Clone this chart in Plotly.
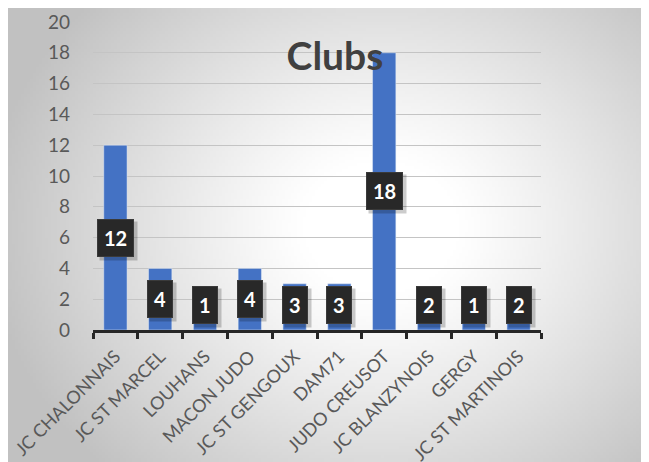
import base64, struct, zlib
import numpy as np
import plotly.graph_objects as go

categories = ["JC CHALONNAIS", "JC ST MARCEL", "LOUHANS", "MACON JUDO", "JC ST GENGOUX",
              "DAM71", "JUDO CREUSOT", "JC BLANZYNOIS", "GERGY", "JC ST MARTINOIS"]
values = [12, 4, 1, 4, 3, 3, 18, 2, 1, 2]
y_ticks = [0, 2, 4, 6, 8, 10, 12, 14, 16, 18, 20]
title_text = "Clubs"

# ---- radial gradient background image (generated locally) ----
def png_uri(arr):
    h, w, _ = arr.shape
    raw = b"".join(b"\x00" + arr[i].tobytes() for i in range(h))
    def chunk(tag, data):
        c = tag + data
        return struct.pack(">I", len(data)) + c + struct.pack(">I", zlib.crc32(c) & 0xffffffff)
    png = b"\x89PNG\r\n\x1a\n" + chunk(b"IHDR", struct.pack(">IIBBBBB", w, h, 8, 2, 0, 0, 0)) \
        + chunk(b"IDAT", zlib.compress(raw, 9)) + chunk(b"IEND", b"")
    return "data:image/png;base64," + base64.b64encode(png).decode()

W, H = 214, 151
yy, xx = np.mgrid[0:H, 0:W]
cx, cy = 0.58 * W, 0.48 * H
t = np.sqrt(((xx - cx) / (0.62 * W)) ** 2 + ((yy - cy) / (0.75 * H)) ** 2)
g = 255 - 62 * np.clip((t - 0.2) / 0.8, 0, 1) ** 1.1
img = np.clip(np.stack([g, g, g], axis=-1), 0, 255).astype(np.uint8)
bg_uri = png_uri(img)

fig = go.Figure()
fig.add_trace(go.Bar(x=categories, y=values, marker_color="#4472C4", width=0.52,
                     hoverinfo="x+y"))

# plot area geometry (figure pixels; page body adds an 8px offset)
L, R, T, B = 85, 116, 14, 140
FW, FH = 649, 462
VW, VH = FW - 8, FH - 8  # visible part of the figure
pw, ph = FW - L - R, FH - T - B
x0 = -L / pw
x1 = (VW - L) / pw
y_top = (FH - B) / ph
y_bot = (FH - B - VH) / ph
fig.add_layout_image(dict(source=bg_uri, xref="paper", yref="paper", x=x0, y=y_top,
                          sizex=x1 - x0, sizey=y_top - y_bot, sizing="stretch",
                          xanchor="left", yanchor="top", layer="below"))

annotations = []
min_center = 1.65
for c, v in zip(categories, values):
    yc = max(v / 2, min_center)
    annotations.append(dict(x=c, y=yc, text="<b>%d</b>" % v, showarrow=False,
                            font=dict(color="rgba(0,0,0,0)", size=20, family="Lato"),
                            bgcolor="rgba(0,0,0,0.2)", borderpad=7, xshift=3, yshift=-3,
                            xanchor="center", yanchor="middle"))
for c, v in zip(categories, values):
    yc = max(v / 2, min_center)
    annotations.append(dict(x=c, y=yc, text="<b>%d</b>" % v, showarrow=False,
                            font=dict(color="white", size=20, family="Lato"),
                            bgcolor="#282828", bordercolor="#3a3a3a", borderwidth=1, borderpad=6,
                            xanchor="center", yanchor="middle"))

fig.update_layout(
    width=FW, height=FH, autosize=False,
    margin=dict(l=L, r=R, t=T, b=B, autoexpand=False),
    paper_bgcolor="white", plot_bgcolor="rgba(0,0,0,0)",
    title=dict(text="<b>%s</b>" % title_text, x=(327 - L) / pw, xref="paper", xanchor="center",
               y=(FH - 48) / FH, yanchor="middle", automargin=False,
               font=dict(family="Lato", size=39, color="#404040")),
    showlegend=False,
    annotations=annotations,
    font=dict(family="Lato", color="#595959"),
)
fig.update_yaxes(range=[0, 20], tickvals=y_ticks, showgrid=True, gridcolor="#c4c4c4", gridwidth=1,
                 zeroline=False, showline=False, ticks="", tickfont=dict(size=19, color="#595959"),
                 ticklabelstandoff=22, automargin=False)
fig.update_xaxes(showline=True, linecolor="#262626", linewidth=3, ticks="outside",
                 tickson="boundaries", ticklen=6, tickwidth=3, tickcolor="#262626",
                 tickangle=-45, tickfont=dict(size=18, color="#595959"), showgrid=False,
                 ticklabelstandoff=6, automargin=False)

fig.write_html("out.html")
